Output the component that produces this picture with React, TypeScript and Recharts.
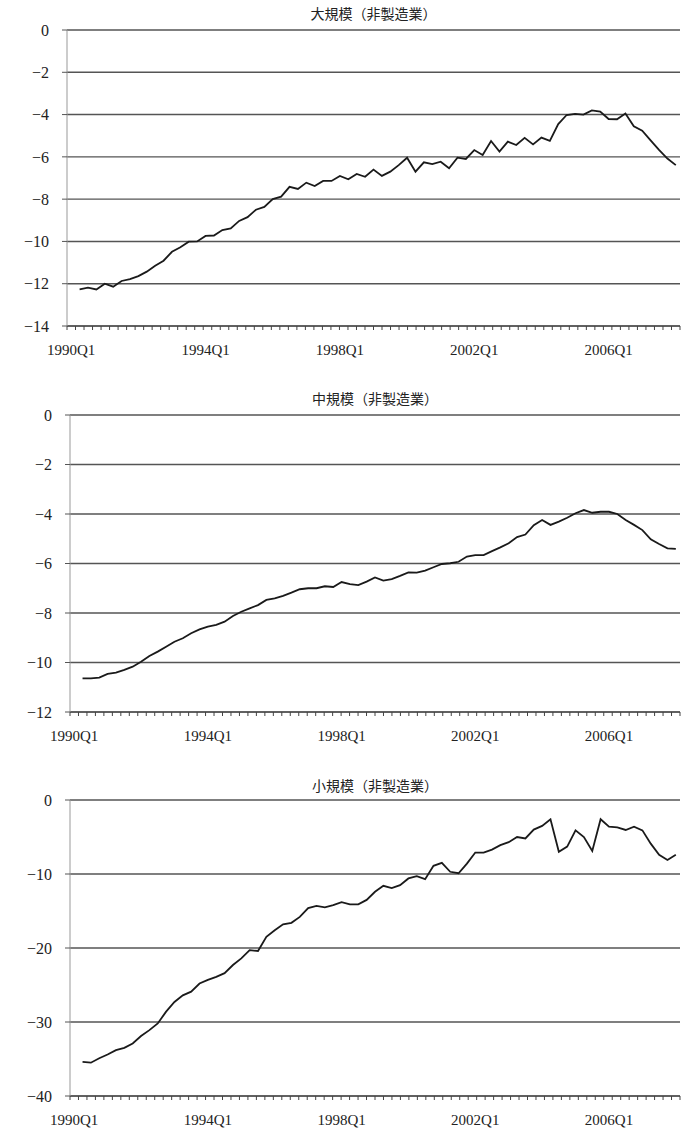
import React from "react";
import {
  LineChart,
  Line,
  XAxis,
  YAxis,
  CartesianGrid,
  ReferenceLine,
} from "recharts";

// quarters 1990Q1 .. 2008Q1
const years = [
  1990, 1991, 1992, 1993, 1994, 1995, 1996, 1997, 1998, 1999, 2000, 2001,
  2002, 2003, 2004, 2005, 2006, 2007, 2008,
];
const quarters: string[] = [];
years.forEach((y) => {
  ["Q1", "Q2", "Q3", "Q4"].forEach((q) => {
    if (y < 2008 || q === "Q1") quarters.push(`${y}${q}`);
  });
});

// 大規模（非製造業）
const largeNonMfg = [
  null,
  -12.27, -12.19, -12.27, -12.0, -12.14, -11.87, -11.78, -11.64, -11.43, -11.15,
  -10.91, -10.49, -10.28, -10.01, -10.0, -9.74, -9.72, -9.46, -9.38, -9.03,
  -8.85, -8.5, -8.37, -8.0, -7.88, -7.42, -7.52, -7.22, -7.38, -7.14,
  -7.14, -6.9, -7.06, -6.81, -6.94, -6.6, -6.9, -6.7, -6.39, -6.04,
  -6.7, -6.26, -6.34, -6.23, -6.54, -6.04, -6.1, -5.68, -5.91, -5.25,
  -5.75, -5.28, -5.44, -5.1, -5.41, -5.09, -5.24, -4.45, -4.02, -3.97,
  -4.0, -3.8, -3.86, -4.21, -4.22, -3.95, -4.55, -4.76, -5.22, -5.67,
  -6.08, -6.39,
];

// 中規模（非製造業）
const midNonMfg = [
  null,
  -10.64, -10.64, -10.61, -10.46, -10.41, -10.3, -10.17, -9.97, -9.74, -9.56,
  -9.36, -9.16, -9.02, -8.82, -8.66, -8.55, -8.48, -8.35, -8.12, -7.95,
  -7.81, -7.68, -7.47, -7.41, -7.31, -7.18, -7.04, -7.0, -7.0, -6.92,
  -6.95, -6.75, -6.83, -6.87, -6.73, -6.56, -6.69, -6.63, -6.5, -6.36,
  -6.37, -6.29, -6.15, -6.02, -5.99, -5.93, -5.72, -5.66, -5.66, -5.5,
  -5.35, -5.18, -4.93, -4.83, -4.45, -4.24, -4.44, -4.31, -4.15, -3.97,
  -3.84, -3.95, -3.91, -3.91, -4.0, -4.24, -4.44, -4.65, -5.02, -5.21,
  -5.39, -5.41,
];

// 小規模（非製造業）
const smallNonMfg = [
  null,
  -35.4, -35.5, -34.9, -34.4, -33.8, -33.5, -32.9, -31.9, -31.1, -30.2,
  -28.6, -27.3, -26.4, -25.9, -24.8, -24.3, -23.9, -23.4, -22.3, -21.4,
  -20.3, -20.4, -18.5, -17.6, -16.8, -16.6, -15.8, -14.6, -14.3, -14.5,
  -14.2, -13.8, -14.1, -14.1, -13.5, -12.4, -11.6, -11.9, -11.5, -10.6,
  -10.3, -10.7, -8.9, -8.5, -9.7, -9.9, -8.6, -7.1, -7.1, -6.7,
  -6.1, -5.7, -5.0, -5.2, -4.0, -3.5, -2.6, -7.0, -6.3, -4.1,
  -5.0, -6.9, -2.6, -3.6, -3.7, -4.05, -3.6, -4.1, -5.9, -7.4,
  -8.1, -7.4,
];

const largeTicks = [-14, -12, -10, -8, -6, -4, -2, 0];
const midTicks = [-12, -10, -8, -6, -4, -2, 0];
const smallTicks = [-40, -30, -20, -10, 0];

const W = 681;
const PLOT_RIGHT = 680;
const N = quarters.length;
const boundaries = Array.from({ length: N + 1 }, (_, i) => i);
const SERIF = "'Liberation Serif', 'DejaVu Serif', serif";

const fmtY = (v: number) => (v < 0 ? `\u2212${Math.abs(v)}` : `${v}`);
const noTick = () => <g />;

function Panel({
  title,
  values,
  yTicks,
  axisX,
  top,
  plotTop,
  plotBottom,
  titleY,
}: {
  title: string;
  values: Array<number | null>;
  yTicks: number[];
  axisX: number;
  top: number;
  plotTop: number;
  plotBottom: number;
  titleY: number;
}) {
  const data = quarters.map((q, i) => ({ q, v: values[i] }));
  const cat = (PLOT_RIGHT - axisX) / N;
  const height = plotBottom + 35 - top;
  return (
    <div
      style={{
        position: "absolute",
        left: 0,
        top,
        width: W,
        height,
        fontFamily: SERIF,
      }}
    >
      <div
        style={{
          position: "absolute",
          left: axisX,
          width: PLOT_RIGHT - axisX,
          top: titleY - top - 10,
          height: 20,
          lineHeight: "20px",
          textAlign: "center",
          fontFamily: "'Noto Sans CJK JP', sans-serif",
          fontSize: 14,
          fontWeight: 400,
          color: "#222",
        }}
      >
        {title}
      </div>
      <LineChart
        width={W}
        height={height}
        data={data}
        style={{ fontFamily: SERIF }}
        margin={{ top: plotTop - top, right: W - PLOT_RIGHT, bottom: 5, left: 0 }}
      >
        <CartesianGrid
          xAxisId="b"
          vertical={false}
          stroke="#555"
          strokeWidth={1.4}
        />
        <XAxis
          xAxisId="b"
          dataKey="q"
          interval={15}
          height={29}
          tickLine={false}
          axisLine={false}
          tickSize={0}
          tickMargin={17}
          padding={{ left: cat / 2, right: cat / 2 }}
          tick={{ fill: "#222", fontSize: 15, fontFamily: SERIF }}
        />
        <XAxis
          xAxisId="a"
          type="number"
          domain={[0, N]}
          ticks={boundaries}
          interval={0}
          height={1}
          tick={noTick}
          tickSize={4}
          stroke="#444"
        />
        <YAxis
          width={axisX}
          domain={[yTicks[0], 0]}
          ticks={yTicks}
          interval={0}
          tickFormatter={fmtY}
          tickSize={5}
          tickMargin={13}
          stroke="#999"
          tickLine={{ stroke: "#555" }}
          tick={{ fill: "#222", fontSize: 16, fontFamily: SERIF }}
        />
        <ReferenceLine xAxisId="a" x={N} stroke="#888" />
        <Line
          xAxisId="b"
          type="linear"
          dataKey="v"
          stroke="#1a1a1a"
          strokeWidth={1.8}
          dot={false}
          isAnimationActive={false}
        />
      </LineChart>
    </div>
  );
}

export default function App() {
  return (
    <div
      style={{
        position: "absolute",
        left: 0,
        top: 0,
        width: W,
        height: 1131,
        background: "#fff",
        overflow: "hidden",
      }}
    >
      <Panel
        title="大規模（非製造業）"
        values={largeNonMfg}
        yTicks={largeTicks}
        axisX={67}
        top={0}
        plotTop={30}
        plotBottom={326}
        titleY={13}
      />
      <Panel
        title="中規模（非製造業）"
        values={midNonMfg}
        yTicks={midTicks}
        axisX={70}
        top={380}
        plotTop={415}
        plotBottom={712}
        titleY={398}
      />
      <Panel
        title="小規模（非製造業）"
        values={smallNonMfg}
        yTicks={smallTicks}
        axisX={70}
        top={765}
        plotTop={800}
        plotBottom={1096}
        titleY={785}
      />
    </div>
  );
}
